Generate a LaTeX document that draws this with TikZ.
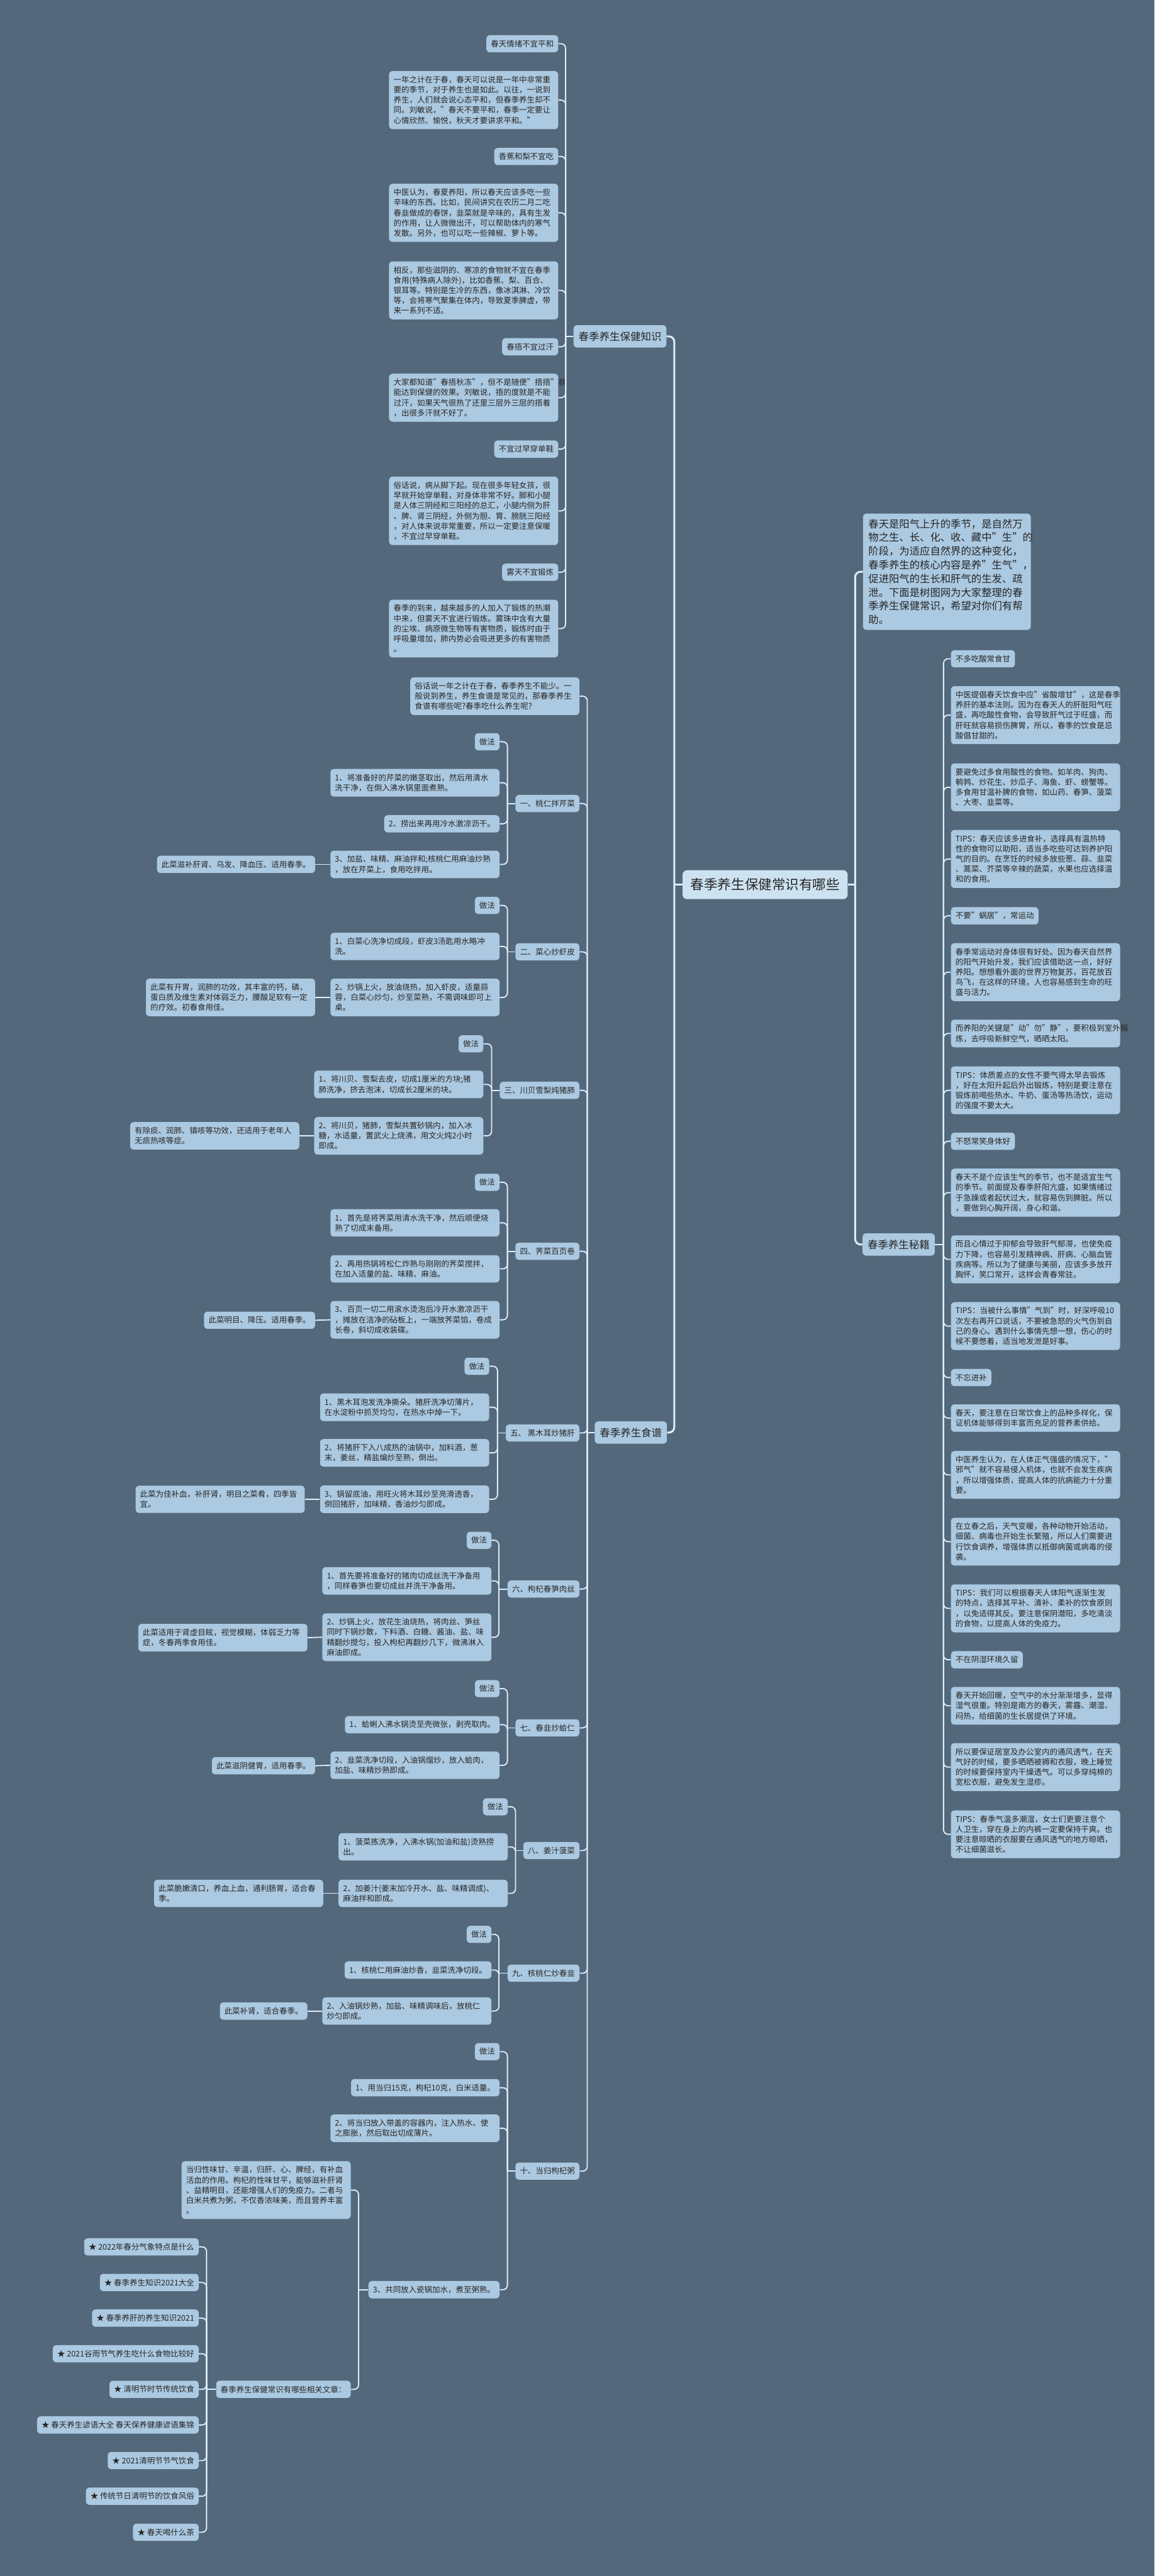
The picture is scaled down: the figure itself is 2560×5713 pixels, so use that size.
\documentclass[tikz,border=0pt]{standalone}
\usepackage{fontspec}
\setmainfont{Noto Sans CJK SC}
\definecolor{bgc}{HTML}{53687A}
\definecolor{nodefill}{HTML}{ABC9E1}
\definecolor{centerfill}{HTML}{CDE2F1}
\definecolor{linec}{HTML}{DCEFFA}
\definecolor{textc}{HTML}{262626}
\newcommand\fsmall{\fontsize{8.7pt}{11.3pt}\selectfont}
\newcommand\fbranch{\fontsize{11.5pt}{14pt}\selectfont}
\newcommand\fcenter{\fontsize{15pt}{18pt}\selectfont}
\newcommand\fintro{\fontsize{11.4pt}{15.2pt}\selectfont}
\tikzset{
  box/.style={fill=nodefill, rounded corners=4pt, inner xsep=5pt, inner ysep=5.5pt, font=\fsmall, text=textc, align=left},
  tbox/.style={box, text width=177.5pt},
  bbox/.style={fill=nodefill, rounded corners=4pt, inner xsep=5.5pt, inner ysep=7pt, font=\fbranch, text=textc},
  cbox/.style={fill=centerfill, rounded corners=5pt, inner xsep=9pt, inner ysep=9pt, font=\fcenter, text=textc},
  ibox/.style={fill=nodefill, rounded corners=4pt, inner xsep=6pt, inner ysep=6pt, font=\fintro, text=textc, align=left, text width=174pt},
  conn/.style={draw=linec, line width=1.3pt, rounded corners=5pt},
  mainconn/.style={draw=linec, line width=2.1pt, rounded corners=6pt},
}
\begin{document}
\begin{tikzpicture}[x=0.5pt,y=-0.5pt]
\fill[bgc] (0,0) rectangle (2560,5713);
\useasboundingbox (0,0) rectangle (2560,5713);

% ---------- centre and main branches ----------
\node[cbox, anchor=west] (C) at (1513,1962) {春季养生保健常识有哪些};
\node[bbox, anchor=east] (B1) at (1478,746) {春季养生保健知识};
\node[bbox, anchor=east] (B2) at (1479,3177) {春季养生食谱};
\node[bbox, anchor=west] (B3) at (1912,2760) {春季养生秘籍};
\node[ibox, anchor=west] (I) at (1913,1268) {春天是阳气上升的季节，是自然万\\物之生、长、化、收、藏中"生"的\\阶段，为适应自然界的这种变化，\\春季养生的核心内容是养"生气"，\\促进阳气的生长和肝气的生发、疏\\泄。下面是树图网为大家整理的春\\季养生保健常识，希望对你们有帮\\助。};

% ---------- branch 1 ----------
\node[box, anchor=east] (N1a) at (1238,97) {春天情绪不宜平和};
\node[tbox, anchor=east] (N1b) at (1238,222) {一年之计在于春，春天可以说是一年中非常重\\要的季节，对于养生也是如此。以往，一说到\\养生，人们就会说心态平和，但春季养生却不\\同。刘敏说，"春天不要平和，春季一定要让\\心情欣然、愉悦，秋天才要讲求平和。"};
\node[box, anchor=east] (N1c) at (1238,347) {香蕉和梨不宜吃};
\node[tbox, anchor=east] (N1d) at (1238,472) {中医认为，春夏养阳，所以春天应该多吃一些\\辛味的东西。比如，民间讲究在农历二月二吃\\春韭做成的春饼，韭菜就是辛味的，具有生发\\的作用，让人微微出汗，可以帮助体内的寒气\\发散。另外，也可以吃一些辣椒、萝卜等。};
\node[tbox, anchor=east] (N1e) at (1238,644) {相反，那些滋阴的、寒凉的食物就不宜在春季\\食用(特殊病人除外)，比如香蕉、梨、百合、\\银耳等。特别是生冷的东西，像冰淇淋、冷饮\\等，会将寒气聚集在体内，导致夏季脾虚，带\\来一系列不适。};
\node[box, anchor=east] (N1f) at (1238,769) {春捂不宜过汗};
\node[tbox, anchor=east] (N1g) at (1238,882) {大家都知道"春捂秋冻"，但不是随便"捂捂"就\\能达到保健的效果。刘敏说，捂的度就是不能\\过汗，如果天气很热了还里三层外三层的捂着\\，出很多汗就不好了。};
\node[box, anchor=east] (N1h) at (1238,996) {不宜过早穿单鞋};
\node[tbox, anchor=east] (N1i) at (1238,1133) {俗话说，病从脚下起。现在很多年轻女孩，很\\早就开始穿单鞋，对身体非常不好。脚和小腿\\是人体三阴经和三阳经的总汇，小腿内侧为肝\\、脾、肾三阴经，外侧为胆、胃、膀胱三阳经\\，对人体来说非常重要，所以一定要注意保暖\\，不宜过早穿单鞋。};
\node[box, anchor=east] (N1j) at (1238,1269) {雾天不宜锻炼};
\node[tbox, anchor=east] (N1k) at (1238,1394) {春季的到来，越来越多的人加入了锻炼的热潮\\中来，但雾天不宜进行锻炼。雾珠中含有大量\\的尘埃、病原微生物等有害物质，锻炼时由于\\呼吸量增加，肺内势必会吸进更多的有害物质\\。};

% ---------- branch 3 (right) ----------
\node[box, anchor=west] (R1) at (2108,1461) {不多吃酸常食甘};
\node[tbox, anchor=west] (R2) at (2108,1586) {中医提倡春天饮食中应"省酸增甘"，这是春季\\养肝的基本法则。因为在春天人的肝脏阳气旺\\盛，再吃酸性食物，会导致肝气过于旺盛，而\\肝旺就容易损伤脾胃，所以，春季的饮食是忌\\酸倡甘甜的。};
\node[tbox, anchor=west] (R3) at (2108,1746) {要避免过多食用酸性的食物。如羊肉、狗肉、\\鹌鹑、炒花生、炒瓜子、海鱼、虾、螃蟹等。\\多食用甘温补脾的食物，如山药、春笋、菠菜\\、大枣、韭菜等。};
\node[tbox, anchor=west] (R4) at (2108,1905) {TIPS：春天应该多进食补，选择具有温热特\\性的食物可以助阳，适当多吃些可达到养护阳\\气的目的。在烹饪的时候多放些葱、蒜、韭菜\\、蒿菜、芥菜等辛辣的蔬菜，水果也应选择温\\和的食用。};
\node[box, anchor=west] (R5) at (2108,2031) {不要"蜗居"，常运动};
\node[tbox, anchor=west] (R6) at (2108,2156) {春季常运动对身体很有好处。因为春天自然界\\的阳气开始升发，我们应该借助这一点，好好\\养阳。想想看外面的世界万物复苏，百花放百\\鸟飞，在这样的环境，人也容易感到生命的旺\\盛与活力。};
\node[tbox, anchor=west] (R7) at (2108,2292) {而养阳的关键是"动"勿"静"，要积极到室外锻\\炼，去呼吸新鲜空气，晒晒太阳。};
\node[tbox, anchor=west] (R8) at (2108,2418) {TIPS：体质差点的女性不要气得太早去锻炼\\，好在太阳升起后外出锻炼，特别是要注意在\\锻炼前喝些热水、牛奶、蛋汤等热汤饮，运动\\的强度不要太大。};
\node[box, anchor=west] (R9) at (2108,2531) {不怒常笑身体好};
\node[tbox, anchor=west] (R10) at (2108,2645) {春天不是个应该生气的季节，也不是适宜生气\\的季节。前面提及春季肝阳亢盛，如果情绪过\\于急躁或者起伏过大，就容易伤到脾脏。所以\\，要做到心胸开阔，身心和谐。};
\node[tbox, anchor=west] (R11) at (2108,2793) {而且心情过于抑郁会导致肝气郁滞，也使免疫\\力下降，也容易引发精神病、肝病、心脑血管\\疾病等。所以为了健康与美丽，应该多多放开\\胸怀，笑口常开，这样会青春常驻。};
\node[tbox, anchor=west] (R12) at (2108,2941) {TIPS：当被什么事情"气到"时，好深呼吸10\\次左右再开口说话，不要被急怒的火气伤到自\\己的身心。遇到什么事情先想一想，伤心的时\\候不要憋着，适当地发泄是好事。};
\node[box, anchor=west] (R13) at (2108,3055) {不忘进补};
\node[tbox, anchor=west] (R14) at (2108,3145) {春天，要注意在日常饮食上的品种多样化，保\\证机体能够得到丰富而充足的营养素供给。};
\node[tbox, anchor=west] (R15) at (2108,3271) {中医养生认为，在人体正气强盛的情况下，"\\邪气"就不容易侵入机体，也就不会发生疾病\\，所以增强体质，提高人体的抗病能力十分重\\要。};
\node[tbox, anchor=west] (R16) at (2108,3419) {在立春之后，天气变暖，各种动物开始活动，\\细菌、病毒也开始生长繁殖，所以人们需要进\\行饮食调养，增强体质以抵御病菌或病毒的侵\\袭。};
\node[tbox, anchor=west] (R17) at (2108,3567) {TIPS：我们可以根据春天人体阳气逐渐生发\\的特点，选择其平补、清补、柔补的饮食原则\\，以免适得其反。要注意保阴潜阳，多吃清淡\\的食物，以提高人体的免疫力。};
\node[box, anchor=west] (R18) at (2108,3681) {不在阴湿环境久留};
\node[tbox, anchor=west] (R19) at (2108,3783) {春天开始回暖，空气中的水分渐渐增多，显得\\湿气很重。特别是南方的春天，雾霾、潮湿、\\闷热，给细菌的生长居提供了环境。};
\node[tbox, anchor=west] (R20) at (2108,3919) {所以要保证居室及办公室内的通风透气，在天\\气好的时候，要多晒晒被褥和衣服，晚上睡觉\\的时候要保持室内干燥透气。可以多穿纯棉的\\宽松衣服，避免发生湿疹。};
\node[tbox, anchor=west] (R21) at (2108,4068) {TIPS：春季气温多潮湿，女士们更要注意个\\人卫生，穿在身上的内裤一定要保持干爽。也\\要注意晾晒的衣服要在通风透气的地方晾晒，\\不让细菌滋长。};

% ---------- branch 2 (recipes) ----------
\node[tbox, anchor=east] (F0) at (1285,1544) {俗话说一年之计在于春，春季养生不能少。一\\般说到养生，养生食谱是常见的，那春季养生\\食谱有哪些呢?春季吃什么养生呢?};

\node[box, anchor=east] (D1) at (1285,1782) {一、桃仁拌芹菜};
\node[box, anchor=east] (D1z) at (1108,1645) {做法};
\node[tbox, anchor=east] (D1a) at (1108,1736) {1、将准备好的芹菜的嫩茎取出，然后用清水\\洗干净，在倒入沸水锅里面煮熟。};
\node[box, anchor=east] (D1b) at (1108,1827) {2、捞出来再用冷水激凉沥干。};
\node[tbox, anchor=east] (D1c) at (1108,1917) {3、加盐、味精、麻油拌和;核桃仁用麻油炒熟\\，放在芹菜上，食用吃拌用。};
\node[box, anchor=east] (D1n) at (699,1917) {此菜滋补肝肾、乌发、降血压、适用春季。};

\node[box, anchor=east] (D2) at (1285,2111) {二、菜心炒虾皮};
\node[box, anchor=east] (D2z) at (1108,2008) {做法};
\node[tbox, anchor=east] (D2a) at (1108,2099) {1、白菜心洗净切成段，虾皮3汤匙用水略冲\\洗。};
\node[tbox, anchor=east] (D2b) at (1108,2212) {2、炒锅上火，放油烧热，加入虾皮，适量蒜\\蓉，白菜心炒匀，炒至菜熟，不需调味即可上\\桌。};
\node[tbox, anchor=east] (D2n) at (699,2212) {此菜有开胃，润肺的功效，其丰富的钙，磷，\\蛋白质及维生素对体弱乏力，腰酸足软有一定\\的疗效。初春食用佳。};

\node[box, anchor=east] (D3) at (1285,2418) {三、川贝雪梨炖猪肺};
\node[box, anchor=east] (D3z) at (1072,2315) {做法};
\node[tbox, anchor=east] (D3a) at (1072,2405) {1、将川贝、雪梨去皮，切成1厘米的方块;猪\\肺洗净，挤去泡沫，切成长2厘米的块。};
\node[tbox, anchor=east] (D3b) at (1072,2519) {2、将川贝，猪肺，雪梨共置砂锅内，加入冰\\糖，水适量，置武火上烧沸，用文火炖2小时\\即成。};
\node[tbox, anchor=east] (D3n) at (664,2519) {有除痰、润肺、镇咳等功效，还适用于老年人\\无痰热咳等症。};

\node[box, anchor=east] (D4) at (1285,2775) {四、荠菜百页卷};
\node[box, anchor=east] (D4z) at (1108,2622) {做法};
\node[tbox, anchor=east] (D4a) at (1108,2712) {1、首先是将荠菜用清水洗干净，然后顺便烧\\熟了切成末备用。};
\node[tbox, anchor=east] (D4b) at (1108,2814) {2、再用热锅将松仁炸熟与刚刚的荠菜搅拌，\\在加入适量的盐、味精、麻油。};
\node[tbox, anchor=east] (D4c) at (1108,2927) {3、百页一切二用滚水烫泡后冷开水激凉沥干\\，摊放在洁净的砧板上，一端放荠菜馅，卷成\\长卷，斜切成收装碟。};
\node[box, anchor=east] (D4n) at (699,2928) {此菜明目、降压。适用春季。};

\node[box, anchor=east] (D5) at (1285,3178) {五、 黑木耳炒猪肝};
\node[box, anchor=east] (D5z) at (1085,3030) {做法};
\node[tbox, anchor=east] (D5a) at (1085,3121) {1、黑木耳泡发洗净撕朵。猪肝洗净切薄片，\\在水淀粉中抓芡均匀，在热水中焯一下。};
\node[tbox, anchor=east] (D5b) at (1085,3222) {2、将猪肝下入八成热的油锅中，加料酒，葱\\末，姜丝，精盐煸炒至熟，倒出。};
\node[tbox, anchor=east] (D5c) at (1085,3325) {3、锅留底油，用旺火将木耳炒至亮滑透香，\\倒回猪肝，加味精，香油炒匀即成。};
\node[tbox, anchor=east] (D5n) at (676,3325) {此菜为佳补血，补肝肾，明目之菜肴，四季皆\\宜。};

\node[box, anchor=east] (D6) at (1285,3524) {六、枸杞春笋肉丝};
\node[box, anchor=east] (D6z) at (1090,3416) {做法};
\node[tbox, anchor=east] (D6a) at (1090,3506) {1、首先要将准备好的猪肉切成丝洗干净备用\\，同样春笋也要切成丝并洗干净备用。};
\node[tbox, anchor=east] (D6b) at (1090,3631) {2、炒锅上火，放花生油烧热，将肉丝、笋丝\\同时下锅炒散，下料酒、白糖、酱油、盐、味\\精翻炒搅匀，投入枸杞再翻炒几下，微沸淋入\\麻油即成。};
\node[tbox, anchor=east] (D6n) at (682,3632) {此菜适用于肾虚目眩，视觉模糊，体弱乏力等\\症，冬春两季食用佳。};

\node[box, anchor=east] (D7) at (1285,3832) {七、春韭炒蛤仁};
\node[box, anchor=east] (D7z) at (1108,3745) {做法};
\node[box, anchor=east] (D7a) at (1108,3825) {1、蛤蜊入沸水锅烫至壳微张，剥壳取肉。};
\node[tbox, anchor=east] (D7b) at (1108,3915) {2、韭菜洗净切段，入油锅熘炒，放入蛤肉，\\加盐、味精炒熟即成。};
\node[box, anchor=east] (D7n) at (699,3916) {此菜滋阴健胃，适用春季。};

\node[box, anchor=east] (D8) at (1285,4104) {八、姜汁菠菜};
\node[box, anchor=east] (D8z) at (1126,4007) {做法};
\node[tbox, anchor=east] (D8a) at (1126,4096) {1、菠菜拣洗净，入沸水锅(加油和盐)烫熟捞\\出。};
\node[tbox, anchor=east] (D8b) at (1126,4199) {2、加姜汁(姜末加冷开水、盐、味精调成)、\\麻油拌和即成。};
\node[tbox, anchor=east] (D8n) at (717,4199) {此菜脆嫩清口，养血上血，通利肠胃，适合春\\季。};

\node[box, anchor=east] (D9) at (1285,4376) {九、核桃仁炒春韭};
\node[box, anchor=east] (D9z) at (1090,4290) {做法};
\node[box, anchor=east] (D9a) at (1090,4369) {1、核桃仁用麻油炒香，韭菜洗净切段。};
\node[tbox, anchor=east] (D9b) at (1090,4460) {2、入油锅炒熟，加盐、味精调味后，放桃仁\\炒匀即成。};
\node[box, anchor=east] (D9n) at (682,4460) {此菜补肾，适合春季。};

\node[box, anchor=east] (D10) at (1285,4815) {十、当归枸杞粥};
\node[box, anchor=east] (D10z) at (1108,4550) {做法};
\node[box, anchor=east] (D10a) at (1108,4630) {1、用当归15克，枸杞10克，白米适量。};
\node[tbox, anchor=east] (D10b) at (1108,4720) {2、将当归放入带盖的容器内，注入热水、使\\之膨胀，然后取出切成薄片。};
\node[box, anchor=east] (D10c) at (1108,5078) {3、共同放入瓷锅加水，煮至粥熟。};
\node[tbox, anchor=east] (D10n) at (778,4857) {当归性味甘、辛温，归肝、心、脾经，有补血\\活血的作用。枸杞的性味甘平，能够滋补肝肾\\、益精明目，还能增强人们的免疫力。二者与\\白米共煮为粥，不仅香浓味美，而且营养丰富\\。};
\node[box, anchor=east] (Rel) at (778,5299) {春季养生保健常识有哪些相关文章：};

\node[box, anchor=east] (A1) at (441,4983) {★ 2022年春分气象特点是什么};
\node[box, anchor=east] (A2) at (441,5062) {★ 春季养生知识2021大全};
\node[box, anchor=east] (A3) at (441,5141) {★ 春季养肝的养生知识2021};
\node[box, anchor=east] (A4) at (441,5220) {★ 2021谷雨节气养生吃什么食物比较好};
\node[box, anchor=east] (A5) at (441,5299) {★ 清明节时节传统饮食};
\node[box, anchor=east] (A6) at (441,5378) {★ 春天养生谚语大全 春天保养健康谚语集锦};
\node[box, anchor=east] (A7) at (441,5457) {★ 2021清明节节气饮食};
\node[box, anchor=east] (A8) at (441,5536) {★ 传统节日清明节的饮食风俗};
\node[box, anchor=east] (A9) at (441,5616) {★ 春天喝什么茶};

% ---------- connectors ----------
\coordinate (mb) at (1495,1962);
\coordinate (rb) at (1896,1962);
\draw[mainconn] (C.west) -- (mb);
\draw[mainconn] (mb) |- (B1.east);
\draw[mainconn] (mb) |- (B2.east);
\draw[mainconn] (C.east) -- (rb);
\draw[mainconn] (rb) |- (I.west);
\draw[mainconn] (rb) |- (B3.west);

\coordinate (b1b) at (1254,746);
\draw[conn] (B1.west) -- (b1b);
\foreach \n in {N1a,N1b,N1c,N1d,N1e,N1f,N1g,N1h,N1i,N1j,N1k}
  \draw[conn] (b1b) |- (\n.east);

\coordinate (b3b) at (2092,2760);
\draw[conn] (B3.east) -- (b3b);
\foreach \n in {R1,R2,R3,R4,R5,R6,R7,R8,R9,R10,R11,R12,R13,R14,R15,R16,R17,R18,R19,R20,R21}
  \draw[conn] (b3b) |- (\n.west);

\coordinate (b2b) at (1302,3177);
\draw[conn] (B2.west) -- (b2b);
\foreach \n in {F0,D1,D2,D3,D4,D5,D6,D7,D8,D9,D10}
  \draw[conn] (b2b) |- (\n.east);

\coordinate (d1b) at (1125,1782);
\draw[conn] (D1.west) -- (d1b);
\foreach \n in {D1z,D1a,D1b,D1c} \draw[conn] (d1b) |- (\n.east);
\draw[conn] (D1c.west) -- (D1n.east);

\coordinate (d2b) at (1125,2111);
\draw[conn] (D2.west) -- (d2b);
\foreach \n in {D2z,D2a,D2b} \draw[conn] (d2b) |- (\n.east);
\draw[conn] (D2b.west) -- (D2n.east);

\coordinate (d3b) at (1090,2418);
\draw[conn] (D3.west) -- (d3b);
\foreach \n in {D3z,D3a,D3b} \draw[conn] (d3b) |- (\n.east);
\draw[conn] (D3b.west) -- (D3n.east);

\coordinate (d4b) at (1125,2775);
\draw[conn] (D4.west) -- (d4b);
\foreach \n in {D4z,D4a,D4b,D4c} \draw[conn] (d4b) |- (\n.east);
\draw[conn] (D4c.west) -- (D4n.east);

\coordinate (d5b) at (1103,3178);
\draw[conn] (D5.west) -- (d5b);
\foreach \n in {D5z,D5a,D5b,D5c} \draw[conn] (d5b) |- (\n.east);
\draw[conn] (D5c.west) -- (D5n.east);

\coordinate (d6b) at (1106,3524);
\draw[conn] (D6.west) -- (d6b);
\foreach \n in {D6z,D6a,D6b} \draw[conn] (d6b) |- (\n.east);
\draw[conn] (D6b.west) -- (D6n.east);

\coordinate (d7b) at (1125,3832);
\draw[conn] (D7.west) -- (d7b);
\foreach \n in {D7z,D7a,D7b} \draw[conn] (d7b) |- (\n.east);
\draw[conn] (D7b.west) -- (D7n.east);

\coordinate (d8b) at (1143,4104);
\draw[conn] (D8.west) -- (d8b);
\foreach \n in {D8z,D8a,D8b} \draw[conn] (d8b) |- (\n.east);
\draw[conn] (D8b.west) -- (D8n.east);

\coordinate (d9b) at (1106,4376);
\draw[conn] (D9.west) -- (d9b);
\foreach \n in {D9z,D9a,D9b} \draw[conn] (d9b) |- (\n.east);
\draw[conn] (D9b.west) -- (D9n.east);

\coordinate (d10b) at (1125,4815);
\draw[conn] (D10.west) -- (d10b);
\foreach \n in {D10z,D10a,D10b,D10c} \draw[conn] (d10b) |- (\n.east);

\coordinate (d10cb) at (795,5078);
\draw[conn] (D10c.west) -- (d10cb);
\draw[conn] (d10cb) |- (D10n.east);
\draw[conn] (d10cb) |- (Rel.east);

\coordinate (relb) at (458,5299);
\draw[conn] (Rel.west) -- (relb);
\foreach \n in {A1,A2,A3,A4,A5,A6,A7,A8,A9} \draw[conn] (relb) |- (\n.east);
\end{tikzpicture}
\end{document}
